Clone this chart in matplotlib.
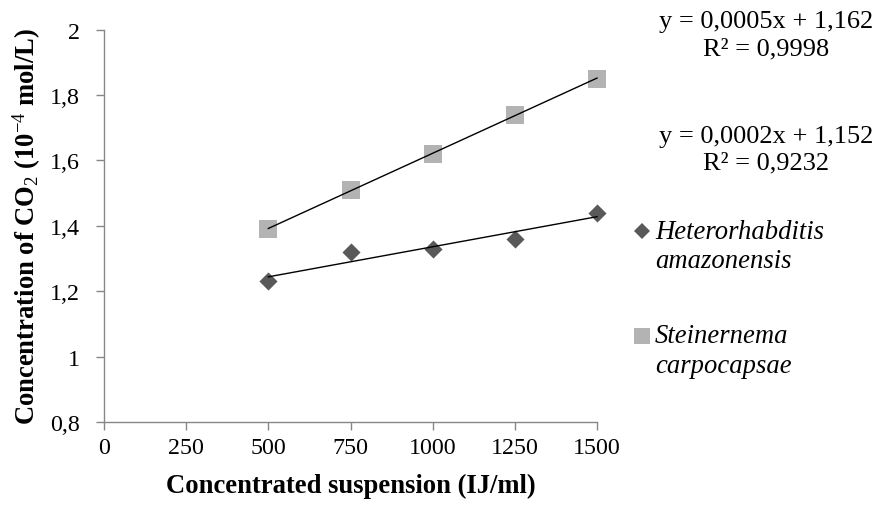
import numpy as np
import matplotlib
matplotlib.use("Agg")
import matplotlib.pyplot as plt

plt.rcParams["font.family"] = ["Liberation Serif", "DejaVu Serif"]
plt.rcParams["mathtext.fontset"] = "custom"
plt.rcParams["mathtext.rm"] = "Liberation Serif"
plt.rcParams["mathtext.bf"] = "Liberation Serif:bold"
plt.rcParams["mathtext.it"] = "Liberation Serif:italic"

# data
suspension = [500, 750, 1000, 1250, 1500]
hetero = [1.23, 1.32, 1.33, 1.36, 1.44]
steiner = [1.39, 1.51, 1.62, 1.74, 1.85]
x_ticks = [0, 250, 500, 750, 1000, 1250, 1500]
y_ticks = [0.8, 1.0, 1.2, 1.4, 1.6, 1.8, 2.0]
y_labels = ["0,8", "1", "1,2", "1,4", "1,6", "1,8", "2"]

W, H = 874, 510
fig = plt.figure(figsize=(W / 100, H / 100), dpi=100)
left, right, top, bottom = 104, 597, 30.7, 423
ax = fig.add_axes([left / W, 1 - bottom / H, (right - left) / W, (bottom - top) / H])

ax.scatter(suspension, steiner, marker="s", s=185, color="#b3b3b3",
           lw=0, zorder=2, clip_on=False)
ax.scatter(suspension, hetero, marker="D", s=85, color="#595959",
           lw=0, zorder=2, clip_on=False)

# linear trendlines
xs = np.array(suspension)
for ys in (steiner, hetero):
    k, b = np.polyfit(xs, ys, 1)
    ax.plot(xs[[0, -1]], k * xs[[0, -1]] + b, color="black", lw=1.0,
            zorder=3, clip_on=False)

ax.set_xlim(0, 1500)
ax.set_ylim(0.8, 2.0)
ax.set_xticks(x_ticks)
ax.set_xticklabels([str(v) for v in x_ticks])
ax.set_yticks(y_ticks)
ax.set_yticklabels(y_labels)
for s in ("top", "right"):
    ax.spines[s].set_visible(False)
for s in ("left", "bottom"):
    ax.spines[s].set_color("#878787")
    ax.spines[s].set_linewidth(1.0)
ax.tick_params(axis="both", colors="#878787", labelcolor="black",
               labelsize=17.3, length=5.5, width=1.0, direction="out")
ax.tick_params(axis="x", pad=5)
ax.tick_params(axis="y", pad=12)

ax.set_xlabel("Concentrated suspension (IJ/ml)", fontsize=19.2,
              fontweight="bold")
ax.xaxis.set_label_coords(0.5, -0.13)
ax.set_ylabel(r"Concentration of CO$_\mathrm{2}$ (10$^{\mathrm{-4}}$ mol/L)",
              fontsize=19.2, fontweight="bold")
ax.yaxis.set_label_coords(-0.124, 0.5)

# trendline equations
ex = 766 / W
fig.text(ex, 1 - 28 / H, "y = 0,0005x + 1,162", fontsize=19,
         ha="center", va="baseline")
fig.text(ex, 1 - 55 / H, "R² = 0,9998", fontsize=19,
         ha="center", va="baseline")
fig.text(ex, 1 - 143 / H, "y = 0,0002x + 1,152", fontsize=19,
         ha="center", va="baseline")
fig.text(ex, 1 - 169 / H, "R² = 0,9232", fontsize=19,
         ha="center", va="baseline")

# legend drawn by hand
lx = 642 / W
fig.lines.append(plt.Line2D([lx], [1 - 232 / H], marker="D", ms=8.1,
                            color="#595959", mew=0, lw=0,
                            transform=fig.transFigure))
fig.lines.append(plt.Line2D([lx], [1 - 337 / H], marker="s", ms=12.2,
                            color="#b3b3b3", mew=0, lw=0,
                            transform=fig.transFigure))
tx = 655 / W
for txt, yb in [("Heterorhabditis", 239), ("amazonensis", 268),
                ("Steinernema", 343), ("carpocapsae", 373)]:
    fig.text(tx, 1 - yb / H, txt, fontsize=19.2, style="italic",
             va="baseline")

fig.savefig("out.png", dpi=100)
